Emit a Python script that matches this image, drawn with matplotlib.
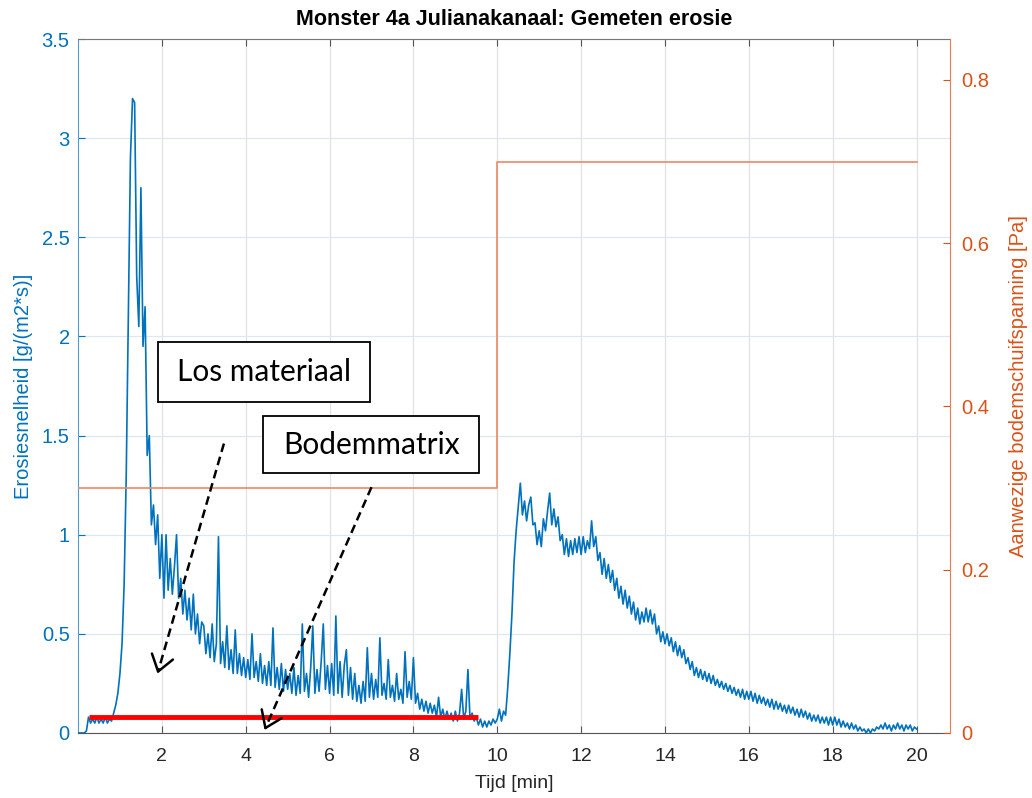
import numpy as np
import matplotlib
matplotlib.use("Agg")
import matplotlib.pyplot as plt
from matplotlib.patches import Rectangle

plt.rcParams['font.family'] = ['Liberation Sans', 'DejaVu Sans']

# erosiesnelheid [g/(m2*s)], one sample every 0.05 min, one row per minute
erosie = [
    0.0, 0.0, 0.0, 0.0, 0.01, 0.08, 0.05, 0.07, 0.05, 0.08, 0.05, 0.07, 0.05, 0.08, 0.05, 0.07, 0.06, 0.1, 0.14, 0.2,
    0.3, 0.45, 0.75, 1.3, 2.1, 2.9, 3.2, 3.18, 2.3, 2.05, 2.75, 1.95, 2.15, 1.4, 1.5, 1.05, 1.15, 0.95, 1.1, 0.78,
    1.0, 0.68, 1.0, 0.72, 0.88, 0.7, 0.84, 1.0, 0.68, 0.78, 0.6, 0.72, 0.57, 0.68, 0.52, 0.7, 0.5, 0.6, 0.45, 0.56,
    0.54, 0.4, 0.5, 0.38, 0.55, 0.36, 0.45, 0.99, 0.35, 0.46, 0.33, 0.54, 0.32, 0.42, 0.3, 0.52, 0.3, 0.4, 0.29, 0.38,
    0.28, 0.37, 0.27, 0.5, 0.28, 0.36, 0.26, 0.4, 0.25, 0.34, 0.24, 0.36, 0.24, 0.53, 0.23, 0.33, 0.22, 0.35, 0.21, 0.32,
    0.22, 0.3, 0.2, 0.33, 0.19, 0.29, 0.2, 0.55, 0.21, 0.3, 0.18, 0.33, 0.54, 0.2, 0.32, 0.21, 0.36, 0.55, 0.22, 0.34,
    0.2, 0.35, 0.19, 0.59, 0.2, 0.36, 0.18, 0.34, 0.42, 0.19, 0.33, 0.17, 0.3, 0.16, 0.24, 0.15, 0.26, 0.16, 0.43, 0.18,
    0.3, 0.17, 0.27, 0.18, 0.48, 0.19, 0.25, 0.17, 0.37, 0.18, 0.24, 0.16, 0.3, 0.17, 0.22, 0.15, 0.41, 0.18, 0.26, 0.17,
    0.38, 0.15, 0.2, 0.12, 0.17, 0.11, 0.16, 0.1, 0.15, 0.1, 0.14, 0.08, 0.18, 0.08, 0.12, 0.07, 0.11, 0.07, 0.1, 0.06,
    0.11, 0.06, 0.1, 0.22, 0.07, 0.11, 0.32, 0.07, 0.1, 0.06, 0.08, 0.04, 0.07, 0.03, 0.06, 0.03, 0.06, 0.04, 0.07, 0.05,
    0.07, 0.12, 0.06, 0.11, 0.09, 0.23, 0.4, 0.6, 0.86, 1.02, 1.14, 1.26, 1.1, 1.17, 1.07, 1.15, 1.19, 1.05, 1.06, 0.95,
    1.02, 0.94, 1.08, 1.02, 1.12, 1.21, 1.05, 1.13, 1.04, 1.09, 0.97, 1.0, 0.9, 0.98, 0.89, 0.97, 0.9, 0.98, 0.91, 0.99,
    0.9, 0.99, 0.91, 0.97, 0.93, 1.07, 0.94, 0.99, 0.87, 0.91, 0.8, 0.88, 0.78, 0.85, 0.76, 0.82, 0.72, 0.78, 0.68, 0.74,
    0.65, 0.72, 0.63, 0.69, 0.6, 0.66, 0.57, 0.63, 0.55, 0.61, 0.56, 0.63, 0.56, 0.62, 0.55, 0.6, 0.5, 0.54, 0.46, 0.51,
    0.45, 0.5, 0.44, 0.48, 0.41, 0.46, 0.39, 0.44, 0.38, 0.42, 0.35, 0.38, 0.32, 0.36, 0.29, 0.33, 0.28, 0.32, 0.27, 0.31,
    0.26, 0.3, 0.25, 0.29, 0.24, 0.27, 0.23, 0.26, 0.22, 0.25, 0.21, 0.24, 0.2, 0.23, 0.19, 0.22, 0.18, 0.22, 0.17, 0.21,
    0.17, 0.21, 0.16, 0.2, 0.15, 0.19, 0.15, 0.18, 0.14, 0.17, 0.13, 0.17, 0.12, 0.16, 0.12, 0.15, 0.11, 0.14, 0.1, 0.14,
    0.1, 0.13, 0.09, 0.12, 0.08, 0.12, 0.08, 0.11, 0.07, 0.1, 0.06, 0.09, 0.06, 0.09, 0.05, 0.08, 0.05, 0.08, 0.04, 0.08,
    0.04, 0.08, 0.04, 0.07, 0.03, 0.06, 0.03, 0.05, 0.02, 0.05, 0.02, 0.04, 0.01, 0.03, 0.01, 0.02, 0.0, 0.02, 0.0, 0.02,
    0.01, 0.03, 0.02, 0.04, 0.02, 0.05, 0.02, 0.04, 0.01, 0.04, 0.02, 0.05, 0.02, 0.04, 0.01, 0.04, 0.02, 0.04, 0.01, 0.03,
    0.02,
]
tijd = np.arange(len(erosie)) * 0.05

# opgelegde bodemschuifspanning [Pa]
tau_tijd = [0.0, 10.0, 10.0, 20.0]
tau = [0.3, 0.3, 0.7, 0.7]

# achtergrondniveau bodemmatrix
matrix_tijd = [0.27, 9.55]
matrix_niveau = [0.08, 0.08]

blauw = '#0072BD'
oranje = '#D95319'
grijs = '#262626'

fig = plt.figure(figsize=(10.32, 7.98), dpi=100)
ax = fig.add_axes([0.0756, 0.0815, 0.845, 0.8695])
ax2 = ax.twinx()

ax.plot(tijd, erosie, color=blauw, lw=1.2, zorder=3)
ax.plot(matrix_tijd, matrix_niveau, color='#ff0000', lw=3.5, zorder=4, solid_capstyle='butt')
ax2.plot(tau_tijd, tau, color='#ea8a63', lw=1.2)

ax.set_xlim(0, 20.8)
ax.set_ylim(0, 3.5)
ax2.set_ylim(0, 0.85)
ax.set_xticks(np.arange(2, 21, 2))
ax.set_yticks(np.arange(0, 3.51, 0.5))
ax.set_yticklabels(['0', '0.5', '1', '1.5', '2', '2.5', '3', '3.5'])
ax2.set_yticks([0, 0.2, 0.4, 0.6, 0.8])
ax2.set_yticklabels(['0', '0.2', '0.4', '0.6', '0.8'])

ax.xaxis.grid(True, color='#e2e2e2', lw=0.9)
ax.yaxis.grid(True, color='#dbe8f3', lw=0.9)
ax.set_axisbelow(True)

ax.tick_params(axis='x', direction='in', top=True, length=5, color='#555555',
               labelcolor=grijs, labelsize=14, pad=11)
ax.tick_params(axis='y', direction='in', length=5, color=blauw, labelcolor=blauw,
               labelsize=14.5, pad=6)
ax2.tick_params(axis='y', direction='in', length=5, color=oranje, labelcolor=oranje,
                labelsize=14.5, pad=8)

ax.spines['top'].set_color('#777777')
ax.spines['bottom'].set_color('#555555')
ax.spines['left'].set_color('#4f9bd6')
ax2.spines['left'].set_visible(False)
ax2.spines['top'].set_visible(False)
ax2.spines['bottom'].set_visible(False)
ax2.spines['right'].set_color('#e67c52')
ax.spines['right'].set_visible(False)

ax.set_xlabel('Tijd [min]', fontsize=14, color=grijs, labelpad=7)
ax.set_ylabel('Erosiesnelheid [g/(m2*s)]', fontsize=14.5, color=blauw, labelpad=6)
ax2.set_ylabel('Aanwezige bodemschuifspanning [Pa]', fontsize=14.5, color=oranje, labelpad=14)
ax.set_title('Monster 4a Julianakanaal: Gemeten erosie', fontsize=15.5, fontweight='bold', pad=10)

# tekstkaders met gestippelde pijlen
kaders = [
    ('Los materiaal', 1.91, 1.67, 5.06, 0.30, (3.48, 1.46), (1.91, 0.31)),
    ('Bodemmatrix', 4.42, 1.31, 5.15, 0.29, (7.0, 1.24), (4.47, 0.025)),
]
naar_data = ax.transData.inverted()
for tekst, x0, y0, b, h, start, eind in kaders:
    ax2.add_patch(Rectangle((x0, y0), b, h, transform=ax.transData, fill=True,
                            facecolor='white', edgecolor='black', lw=1.3, zorder=6))
    ax2.text(x0 + b / 2, y0 + h / 2, tekst, transform=ax.transData, ha='center', va='center',
             fontsize=21.5, family='Lato', zorder=7)
    ax2.plot([start[0], eind[0]], [start[1], eind[1]], transform=ax.transData,
             color='black', lw=1.8, ls=(0, (3.5, 2)), zorder=7)
    # open pijlpunt, in pixels opgebouwd
    p0 = ax.transData.transform(start)
    p1 = ax.transData.transform(eind)
    terug = (p0 - p1) / np.hypot(*(p0 - p1))
    for hoek in (np.radians(35), -np.radians(35)):
        c, s = np.cos(hoek), np.sin(hoek)
        arm = np.array([c * terug[0] - s * terug[1], s * terug[0] + c * terug[1]]) * 19
        a, b2 = naar_data.transform([p1 + arm, p1])
        ax2.plot([a[0], b2[0]], [a[1], b2[1]], transform=ax.transData,
                 color='black', lw=1.8, solid_capstyle='round', zorder=7)

fig.savefig('out.png', dpi=100)
